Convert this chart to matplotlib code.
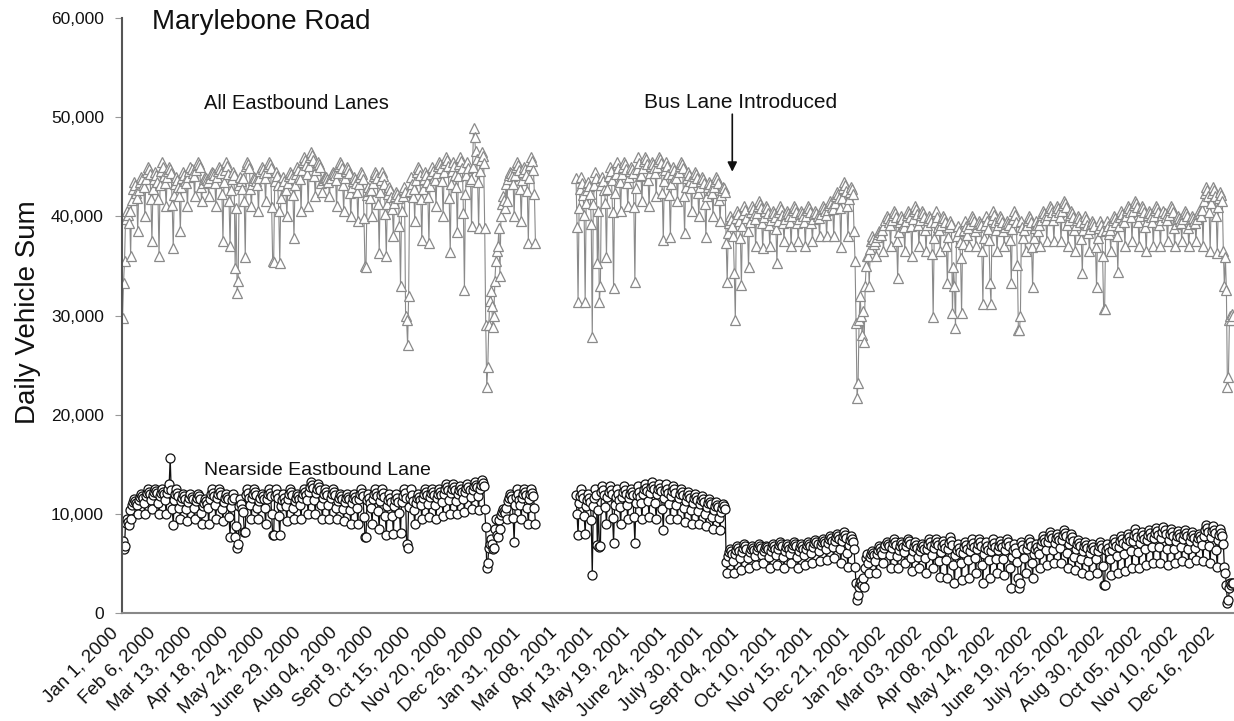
import numpy as np
import pandas as pd
import matplotlib; matplotlib.use('Agg')
import matplotlib.pyplot as plt
import matplotlib.transforms as mtransforms
from matplotlib.ticker import FuncFormatter

plt.rcParams['font.family'] = ['Liberation Sans', 'DejaVu Sans']

# --- daily counts, Jan 1 2000 .. Dec 31 2002 (Jan 1 2000 = Saturday) ---
# read weekly (Sat..Fri blocks): weekday top and weekend low, in thousands
ALL_HI = [40.5, 43.5, 44.0, 45.0, 44.5, 45.5, 45.0, 44.0, 44.5, 45.0,
          45.5, 44.0, 44.5, 45.0, 45.5, 44.5, 44.0, 45.5, 44.0, 45.0,
          45.5, 44.5, 44.0, 44.5, 45.0, 46.0, 46.5, 45.5, 44.0, 44.5,
          45.5, 45.0, 44.0, 44.5, 43.0, 44.5, 44.5, 43.0, 42.5, 43.0,
          44.0, 45.0, 44.5, 45.0, 45.5, 46.0, 45.5, 46.0, 45.5, 47.0,
          46.5, 33.0, 37.0, 42.0, 44.5, 45.5, 45.0, 46.0, 45.5, np.nan,
          np.nan, np.nan, np.nan, 44.5, 44.0, 43.5, 44.5, 44.0, 45.0, 45.5,
          45.5, 45.0, 46.0, 46.0, 45.5, 46.0, 45.5, 45.0, 45.5, 44.5,
          44.5, 44.0, 43.5, 44.0, 43.0, 40.0, 40.5, 41.0, 41.0, 41.5,
          41.0, 40.5, 41.0, 40.5, 41.0, 40.5, 41.0, 40.5, 41.0, 41.5,
          42.5, 43.5, 43.0, 36.0, 33.0, 38.0, 38.5, 40.0, 40.5, 40.0,
          40.5, 41.0, 40.5, 40.0, 40.5, 40.0, 39.5, 39.0, 39.5, 40.0,
          39.5, 40.0, 40.5, 40.0, 39.5, 40.5, 39.5, 40.0, 39.5, 40.5,
          41.0, 41.0, 41.5, 40.5, 40.0, 40.0, 39.5, 39.5, 39.5, 40.0,
          40.5, 41.0, 41.5, 41.0, 40.5, 41.0, 40.5, 41.0, 40.0, 40.5,
          40.0, 40.5, 43.0, 43.0, 42.5, 36.0, 30.0]
ALL_LO = [33.0, 36.0, 38.5, 40.0, 37.5, 36.0, 41.0, 36.8, 38.5, 41.0,
          42.0, 41.5, 42.0, 41.0, 37.5, 37.0, 36.0, 41.5, 41.0, 40.5,
          41.5, 35.5, 35.3, 40.0, 37.8, 40.5, 41.0, 42.0, 42.5, 42.0,
          41.0, 40.5, 40.0, 39.5, 35.0, 40.0, 36.3, 36.0, 38.0, 33.0,
          30.0, 39.5, 37.6, 37.3, 41.0, 40.0, 36.4, 38.4, 32.6, 39.0,
          38.8, 28.0, 29.0, 34.0, 41.5, 40.0, 39.5, 37.3, 37.3, np.nan,
          np.nan, np.nan, np.nan, 40.0, 31.4, 35.0, 31.4, 35.3, 35.9, 32.8,
          40.5, 41.0, 33.4, 41.5, 41.0, 42.0, 37.6, 37.9, 41.5, 38.3,
          40.5, 40.0, 37.9, 40.0, 39.5, 33.4, 34.3, 33.1, 34.9, 37.0,
          36.8, 37.0, 35.3, 37.5, 37.0, 37.5, 37.0, 37.5, 38.0, 38.0,
          38.0, 36.9, 38.0, 29.0, 28.0, 33.0, 36.0, 36.5, 37.0, 33.8,
          36.5, 36.0, 37.0, 36.5, 29.8, 36.5, 33.3, 28.7, 30.3, 37.0,
          37.0, 31.2, 33.3, 36.5, 37.0, 33.3, 28.5, 36.5, 32.9, 37.0,
          37.5, 37.5, 37.5, 37.0, 36.5, 34.3, 36.5, 32.9, 30.7, 36.5,
          34.4, 37.0, 37.5, 37.0, 36.5, 37.0, 37.0, 37.5, 37.0, 37.5,
          37.0, 37.5, 37.0, 36.5, 36.3, 29.0, 29.5]
NS_HI = [9.5, 11.5, 12.0, 12.5, 12.5, 12.5, 13.0, 12.5, 12.0, 12.0,
         12.0, 11.5, 12.5, 12.5, 12.0, 12.0, 11.5, 12.5, 12.5, 12.0,
         12.5, 12.5, 12.0, 12.5, 12.0, 12.5, 13.2, 13.0, 12.5, 12.5,
         12.0, 12.0, 12.0, 12.5, 12.0, 12.5, 12.5, 12.0, 12.0, 12.5,
         12.5, 12.0, 12.5, 12.5, 12.5, 13.0, 13.0, 12.8, 13.0, 13.2,
         13.4, 9.0, 8.0, 10.5, 12.0, 12.5, 12.5, 12.5, 12.5, np.nan,
         np.nan, np.nan, np.nan, 12.4, 12.5, 12.0, 12.5, 12.8, 12.8, 12.5,
         12.8, 12.5, 12.8, 13.0, 13.2, 13.0, 13.0, 12.8, 12.5, 12.2,
         12.0, 11.8, 11.5, 11.2, 11.0, 6.5, 6.8, 7.0, 6.8, 7.0,
         6.8, 7.0, 7.2, 7.0, 7.2, 7.0, 7.2, 7.4, 7.5, 7.8,
         8.0, 8.2, 7.8, 6.5, 4.0, 6.3, 6.8, 7.2, 7.5, 7.2,
         7.5, 7.2, 7.0, 7.5, 7.5, 7.3, 7.7, 7.0, 7.2, 7.5,
         7.5, 7.2, 7.5, 7.3, 7.5, 7.0, 7.2, 7.5, 7.0, 7.8,
         8.2, 8.0, 8.4, 8.0, 7.4, 7.2, 7.0, 7.2, 7.0, 7.5,
         7.8, 8.0, 8.5, 8.2, 8.4, 8.6, 8.7, 8.5, 8.3, 8.4,
         8.2, 8.0, 8.9, 8.8, 8.5, 7.0, 3.0]
NS_LO = [6.5, 9.5, 10.0, 10.0, 10.5, 10.0, 10.0, 8.9, 9.5, 9.3,
         9.5, 9.0, 9.0, 9.5, 9.3, 7.7, 6.6, 8.2, 9.5, 9.5,
         9.0, 7.9, 7.9, 9.3, 9.5, 9.5, 10.0, 10.0, 9.5, 9.5,
         9.5, 9.3, 9.0, 9.0, 7.7, 9.0, 8.5, 7.9, 8.0, 8.1,
         6.6, 9.0, 9.5, 9.7, 9.5, 9.8, 10.0, 10.0, 10.2, 10.5,
         10.4, 5.0, 6.5, 8.5, 9.5, 7.2, 9.5, 9.0, 9.0, np.nan,
         np.nan, np.nan, np.nan, 10.0, 7.9, 8.0, 6.8, 8.5, 9.0, 7.1,
         9.0, 9.5, 7.1, 9.5, 9.7, 9.5, 8.4, 9.5, 9.5, 9.2,
         9.0, 9.0, 8.8, 8.5, 8.4, 4.0, 4.0, 4.3, 4.5, 4.8,
         5.0, 4.5, 4.8, 4.5, 5.0, 4.5, 4.8, 5.0, 5.2, 5.3,
         5.5, 5.0, 4.6, 2.0, 2.6, 4.0, 4.0, 5.0, 4.5, 4.5,
         5.0, 4.2, 4.5, 4.0, 4.5, 3.6, 3.5, 3.0, 3.3, 3.5,
         4.0, 3.0, 3.5, 4.0, 3.8, 2.5, 3.5, 4.0, 3.5, 4.5,
         4.8, 5.0, 5.0, 4.5, 4.3, 4.0, 3.8, 4.0, 2.8, 3.8,
         4.0, 4.2, 4.5, 4.5, 4.8, 5.0, 5.0, 4.8, 5.0, 5.2,
         5.0, 5.3, 5.2, 5.0, 4.6, 1.5, 2.5]
# where each day of the week sits between weekend low (0) and weekday top (1)
ALL_DOW = [0.6, 0.0, 0.75, 0.9, 1.0, 0.95, 0.85]   # Sat, Sun, Mon .. Fri
NS_DOW = [0.45, 0.0, 0.7, 0.85, 1.0, 0.9, 0.8]

# holidays / odd days read individually (thousands)
ALL_DAYS = {
    '2000-01-01': 29.7, '2000-01-02': 33.3, '2000-01-03': 35.5,
    '2000-04-21': 34.8, '2000-04-23': 32.3, '2000-04-24': 33.5,
    '2000-05-01': 35.9, '2000-05-29': 35.4, '2000-08-28': 34.9,
    '2000-10-01': 33.0, '2000-10-06': 30.0, '2000-10-07': 29.5,
    '2000-10-08': 27.0, '2000-10-09': 32.0,
    '2000-12-12': 48.9, '2000-12-13': 48.0,
    '2000-12-23': 38.8, '2000-12-24': 29.0, '2000-12-25': 22.8,
    '2000-12-26': 24.8, '2000-12-27': 29.0, '2000-12-28': 31.5,
    '2000-12-29': 32.5, '2000-12-30': 31.0, '2000-12-31': 28.8,
    '2001-01-01': 30.0, '2001-01-02': 33.5, '2001-01-03': 35.5,
    '2001-01-04': 36.5, '2001-01-05': 37.0,
    '2001-04-01': 31.4, '2001-04-08': 27.8, '2001-04-13': 35.3,
    '2001-04-15': 31.4, '2001-04-16': 33.0, '2001-08-27': 29.5,
    '2001-12-22': 38.5, '2001-12-23': 35.5, '2001-12-24': 29.2,
    '2001-12-25': 21.7, '2001-12-26': 23.2, '2001-12-27': 29.5,
    '2001-12-28': 32.0, '2001-12-29': 30.0, '2001-12-30': 28.0,
    '2001-12-31': 30.5, '2002-01-01': 27.3, '2002-01-02': 33.0,
    '2002-01-03': 35.0, '2002-01-04': 36.0,
    '2002-03-29': 30.3, '2002-03-31': 33.0, '2002-04-01': 28.7,
    '2002-05-06': 31.2, '2002-06-03': 28.5, '2002-06-04': 30.0,
    '2002-08-26': 30.7,
    '2002-12-21': 36.5, '2002-12-22': 33.0, '2002-12-23': 35.9,
    '2002-12-24': 32.6, '2002-12-25': 22.8, '2002-12-26': 23.8,
    '2002-12-27': 29.5, '2002-12-28': 29.9, '2002-12-29': 29.5,
    '2002-12-30': 30.2, '2002-12-31': 30.0,
}
NS_DAYS = {
    '2000-01-01': 7.3, '2000-01-02': 6.5, '2000-01-03': 6.8,
    '2000-02-17': 15.6,
    '2000-04-21': 7.7, '2000-04-23': 6.6, '2000-04-24': 7.0,
    '2000-05-01': 8.2, '2000-05-29': 7.9, '2000-08-28': 7.7,
    '2000-10-01': 8.1, '2000-10-07': 7.0, '2000-10-08': 6.6,
    '2000-12-23': 10.5, '2000-12-24': 8.7, '2000-12-25': 4.5,
    '2000-12-26': 5.0, '2000-12-27': 6.6, '2000-12-28': 7.0,
    '2000-12-29': 7.5, '2000-12-30': 7.0, '2000-12-31': 6.5,
    '2001-01-01': 6.6, '2001-01-02': 8.5, '2001-01-03': 9.5,
    '2001-04-08': 3.8, '2001-04-13': 6.9, '2001-04-15': 6.7,
    '2001-04-16': 6.8,
    '2001-12-22': 6.5, '2001-12-23': 4.6, '2001-12-24': 3.0,
    '2001-12-25': 1.3, '2001-12-26': 1.8, '2001-12-27': 2.6,
    '2001-12-28': 3.0, '2001-12-29': 3.2, '2001-12-30': 2.8,
    '2001-12-31': 3.5, '2002-01-01': 2.6, '2002-01-02': 4.5,
    '2002-01-03': 5.5, '2002-01-04': 6.0,
    '2002-06-03': 2.5, '2002-06-04': 3.0, '2002-08-26': 2.8,
    '2002-12-21': 7.0, '2002-12-22': 4.6, '2002-12-23': 4.0,
    '2002-12-24': 2.8, '2002-12-25': 1.0, '2002-12-26': 1.3,
    '2002-12-27': 2.5, '2002-12-28': 3.0, '2002-12-29': 2.8,
    '2002-12-30': 3.0, '2002-12-31': 3.0,
}
GAP = ('2001-02-12', '2001-03-22')   # no counts recorded

TICK_LABELS = ['Jan 1, 2000', 'Feb 6, 2000', 'Mar 13, 2000', 'Apr 18, 2000',
               'May 24, 2000', 'June 29, 2000', 'Aug 04, 2000', 'Sept 9, 2000',
               'Oct 15, 2000', 'Nov 20, 2000', 'Dec 26, 2000', 'Jan 31, 2001',
               'Mar 08, 2001', 'Apr 13, 2001', 'May 19, 2001', 'June 24, 2001',
               'July 30, 2001', 'Sept 04, 2001', 'Oct 10, 2001', 'Nov 15, 2001',
               'Dec 21, 2001', 'Jan 26, 2002', 'Mar 03, 2002', 'Apr 08, 2002',
               'May 14, 2002', 'June 19, 2002', 'July 25, 2002', 'Aug 30, 2002',
               'Oct 05, 2002', 'Nov 10, 2002', 'Dec 16, 2002']


def daily(hi, lo, dow, special, dates):
    hi = np.asarray(hi); lo = np.asarray(lo); dow = np.asarray(dow)
    d = np.arange(len(dates))
    w, k = d // 7, d % 7
    v = lo[w] + dow[k] * (hi[w] - lo[w])
    s = pd.Series(v, index=dates)
    for day, val in special.items():
        s[pd.Timestamp(day)] = val
    s[GAP[0]:GAP[1]] = np.nan
    return s.values * 1000


dates = pd.date_range('2000-01-01', '2002-12-31', freq='D')
x = np.arange(len(dates))
all_lanes = daily(ALL_HI, ALL_LO, ALL_DOW, ALL_DAYS, dates)
nearside = daily(NS_HI, NS_LO, NS_DOW, NS_DAYS, dates)

fig = plt.figure(figsize=(12.34, 7.21), dpi=100)
ax = fig.add_axes([122/1234, 1 - 613/721, 1112/1234, 595/721])

ax.plot(x, all_lanes, '-', color='#8a8a8a', lw=0.8,
        marker='^', ms=6.5, mfc='white', mec='#8a8a8a', mew=0.9)
ax.plot(x, nearside, '-', color='#111111', lw=0.9,
        marker='o', ms=6.5, mfc='white', mec='#111111', mew=0.9)

ax.set_xlim(-0.5, len(dates) - 0.5)
ax.set_ylim(0, 60000)
ax.set_yticks(range(0, 60001, 10000))
ax.yaxis.set_major_formatter(FuncFormatter(lambda v, p: f'{int(v):,}'))
ax.set_xticks(range(0, 36 * len(TICK_LABELS), 36))
ax.tick_params(axis='x', length=0, pad=8, labelsize=13.5, colors='#111111')
ax.tick_params(axis='y', length=5, width=0.8, color='#999999', pad=8,
               labelsize=12.5, labelcolor='#111111')
ax.set_xticklabels(TICK_LABELS, rotation=45, ha='right', va='top',
                   rotation_mode='anchor')
shift = mtransforms.ScaledTranslation(-9/72, 0, fig.dpi_scale_trans)
for lab in ax.xaxis.get_majorticklabels():
    lab.set_transform(lab.get_transform() + shift)
for s in ('top', 'right'):
    ax.spines[s].set_visible(False)
ax.spines['left'].set_color('#555555'); ax.spines['left'].set_linewidth(1.5)
ax.spines['bottom'].set_color('#888888'); ax.spines['bottom'].set_linewidth(1.5)

fig.text(28/1234, 1 - 312/721, 'Daily Vehicle Sum', rotation=90,
         ha='center', va='center', fontsize=20, color='#111111')
ax.text(29, 59600, 'Marylebone Road', fontsize=20, va='center', ha='left',
        color='#111111', clip_on=False)
ax.text(80, 51400, 'All Eastbound Lanes', fontsize=14.5, va='center', ha='left',
        color='#111111')
ax.text(80, 14400, 'Nearside Eastbound Lane', fontsize=14, va='center',
        ha='left', color='#111111')
ax.text(609, 51500, 'Bus Lane Introduced', fontsize=15, va='center',
        ha='center', color='#111111')
ax.annotate('', xy=(601, 44500), xytext=(601, 50300),
            arrowprops=dict(arrowstyle='-|>', color='#111111', lw=1.2,
                            mutation_scale=14, shrinkA=0, shrinkB=0))

fig.savefig('out.png', dpi=100)
